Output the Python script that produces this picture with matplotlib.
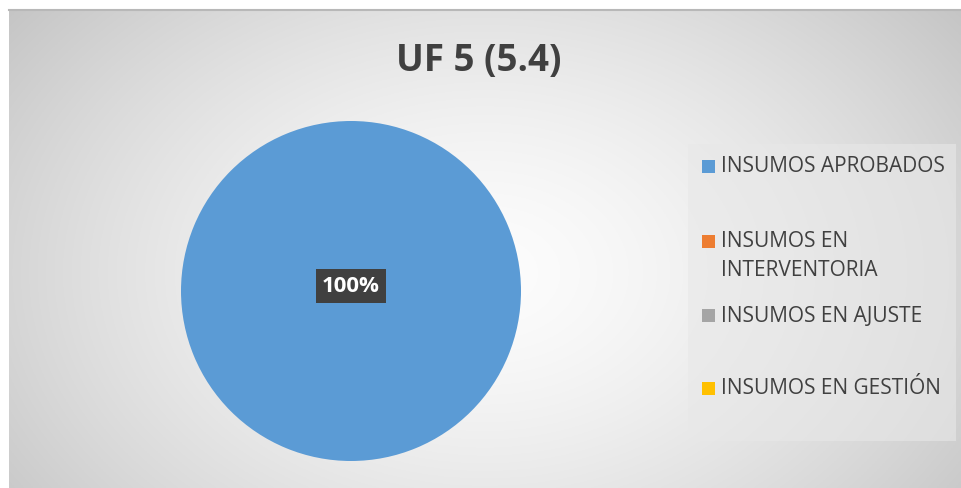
import numpy as np
import matplotlib
matplotlib.use("Agg")
import matplotlib.pyplot as plt
from matplotlib.patches import Rectangle

# chart data
categories = ["INSUMOS APROBADOS", "INSUMOS EN\nINTERVENTORIA", "INSUMOS EN AJUSTE", "INSUMOS EN GESTIÓN"]
values = [100, 0, 0, 0]
colors = ["#5B9BD5", "#ED7D31", "#A5A5A5", "#FFC000"]
title = "UF 5 (5.4)"

W, H = 961, 489
fig = plt.figure(figsize=(W / 100, H / 100), dpi=100)
fig.patch.set_facecolor("white")

# chart area background: radial gradient, light centre to gray edges
bg = fig.add_axes([9 / W, 0, 952 / W, 478 / H])
yy, xx = np.mgrid[0:1:300j, 0:1:600j]
r = np.sqrt(((xx - 0.5) / 0.6) ** 2 + ((yy - 0.55) / 0.85) ** 2)
shade = np.clip(0.99 - 0.2 * r ** 1.5, 0.77, 1.0)
bg.imshow(np.dstack([shade] * 3), aspect="auto", extent=[0, 1, 0, 1])
bg.set_xlim(0, 1)
bg.set_ylim(0, 1)
bg.axis("off")
bg.plot([0, 1], [1, 1], color="#b8b8b8", lw=1.5, transform=bg.transAxes, clip_on=False)

fig.text(479 / W, 1 - 61 / H, title, ha="center", va="center", fontsize=26.5,
         fontweight="bold", color="#404040", family="Open Sans")

# pie
ax = fig.add_axes([(351 - 170) / W, 1 - (292 + 170) / H, 340 / W, 340 / H])
ax.pie(values, colors=colors, startangle=90, counterclock=False,
       wedgeprops=dict(linewidth=0))
ax.set_aspect("equal")
ax.set_xlim(-1, 1)
ax.set_ylim(-1, 1)
ax.text(0, 0.03, f"{values[0]}%", ha="center", va="center", fontsize=16,
        fontweight="bold", color="white", family="Open Sans",
        bbox=dict(boxstyle="square,pad=0.28", facecolor="#404040", edgecolor="none"))

# legend box
fig.patches.append(Rectangle((688 / W, 1 - 442 / H), 268 / W, 297 / H,
                             transform=fig.transFigure, facecolor="#e8e8e8",
                             edgecolor="none", alpha=0.6, zorder=1))
rows = [167, 242, 316, 389]
for cat, col, y in zip(categories, colors, rows):
    fig.patches.append(Rectangle((702 / W, 1 - (y + 6.5) / H), 13 / W, 13 / H,
                                 transform=fig.transFigure, facecolor=col,
                                 edgecolor="none", zorder=2))
    for i, line in enumerate(cat.split("\n")):
        fig.text(721 / W, 1 - (y + 29 * i) / H, line, ha="left", va="center",
                 fontsize=15, color="#404040", family="Open Sans")

fig.savefig("out.png", dpi=100)
